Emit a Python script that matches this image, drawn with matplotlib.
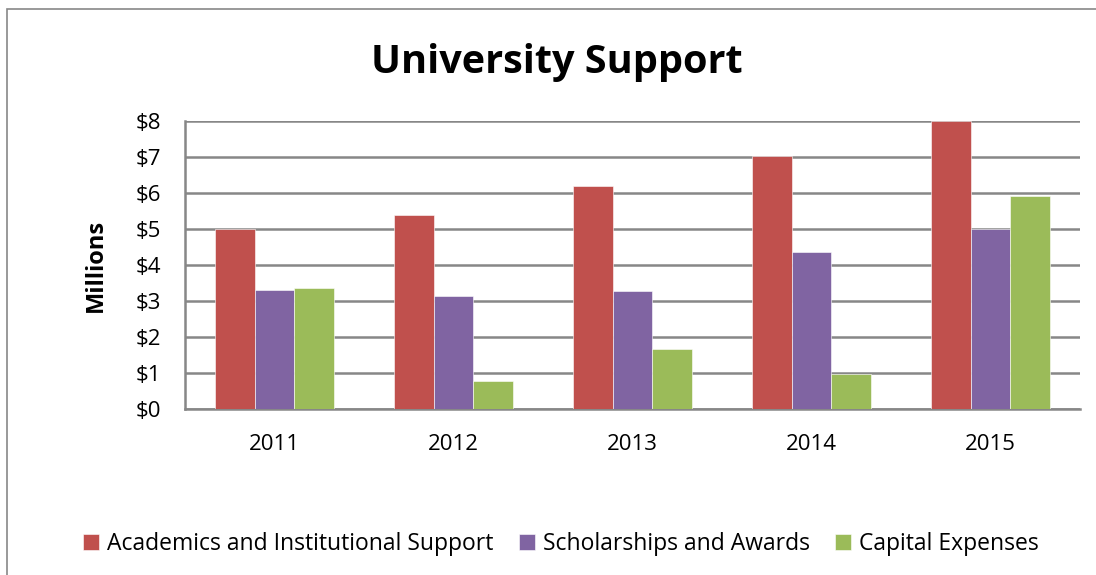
import numpy as np
import matplotlib.pyplot as plt
from matplotlib.patches import Rectangle

years = ['2011', '2012', '2013', '2014', '2015']
academics = [5.0, 5.40, 6.20, 7.03, 8.0]
scholarships = [3.31, 3.15, 3.28, 4.36, 5.01]
capital = [3.35, 0.77, 1.67, 0.96, 5.91]
series_names = ['Academics and Institutional Support', 'Scholarships and Awards', 'Capital Expenses']
colors = ['#C0504D', '#8064A2', '#9BBB59']
y_ticks = [0, 1, 2, 3, 4, 5, 6, 7, 8]

plt.rcParams['font.family'] = ['Open Sans', 'DejaVu Sans']

fig = plt.figure(figsize=(10.96, 5.75), dpi=100)
ax = fig.add_axes([185 / 1096, 1 - 409 / 575, (1080 - 185) / 1096, (409 - 121) / 575])

x = np.arange(len(years))
w = 0.222
for i, (vals, name, c) in enumerate(zip([academics, scholarships, capital], series_names, colors)):
    ax.bar(x + (i - 1) * w, vals, width=w, color=c, label=name, zorder=3,
           edgecolor='white', linewidth=0.4)

ax.set_xlim(-0.5, len(years) - 0.5)
ax.set_ylim(0, 8)
ax.set_yticks(y_ticks)
ax.set_yticklabels([f'${v}' for v in y_ticks], fontsize=16)
ax.set_xticks(x)
ax.set_xticklabels(years, fontsize=16)
ax.tick_params(axis='x', length=0, pad=18)
ax.tick_params(axis='y', length=0, pad=17)
ax.grid(axis='y', color='#878787', linewidth=1.8, zorder=0)
for s in ['top', 'right']:
    ax.spines[s].set_visible(False)
for s in ['left', 'bottom']:
    ax.spines[s].set_color('#878787')
    ax.spines[s].set_linewidth(1.8)

ax.set_ylabel('Millions', fontsize=17, fontweight='bold', labelpad=20)

fig.text(557 / 1096, 1 - 62 / 575, 'University Support', fontsize=28.5, fontweight='bold',
         ha='center', va='center')

handles, labels = ax.get_legend_handles_labels()
fig.legend(handles, labels, loc='center', bbox_to_anchor=(561 / 1096, 1 - 544 / 575),
           ncol=3, frameon=False, fontsize=16.5, handlelength=0.7, handleheight=0.7,
           handletextpad=0.35, columnspacing=1.1)

fig.patches.append(Rectangle((7 / 1096, -0.1), 1.1, 1.1 - 9 / 575,
                             transform=fig.transFigure, fill=False,
                             edgecolor='#878787', linewidth=1.2))

fig.savefig('out.png', dpi=100)
